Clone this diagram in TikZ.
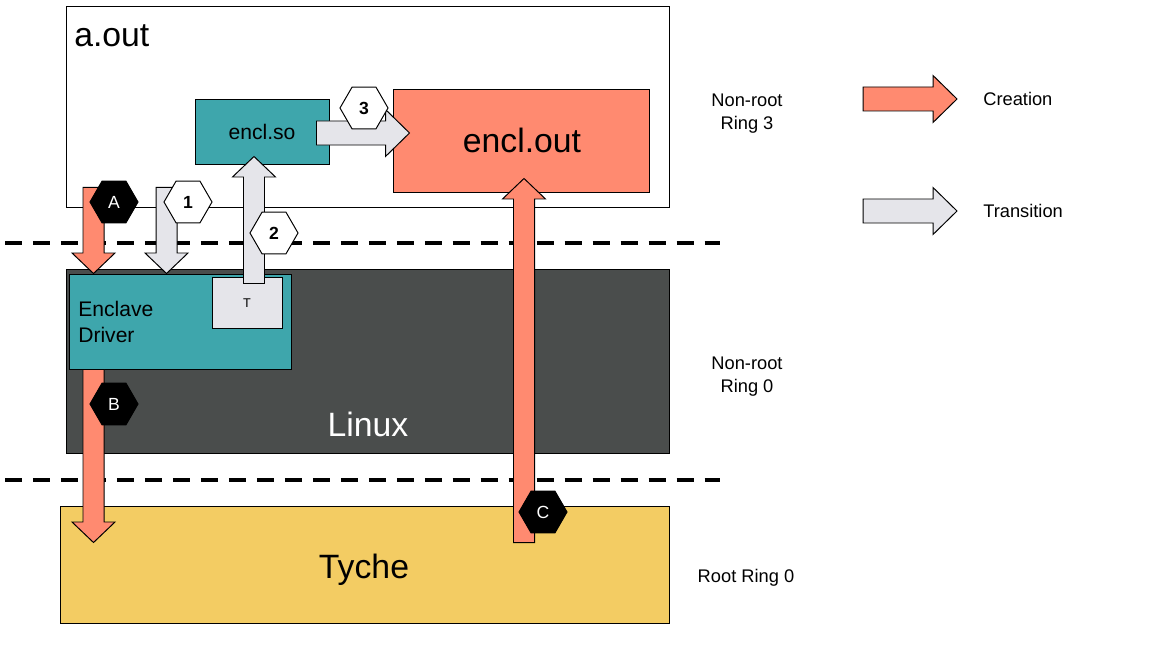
\documentclass[tikz,border=0pt]{standalone}
\usepackage{fontspec}
\setmainfont{Liberation Sans}
\usetikzlibrary{calc, fit, positioning, shapes.geometric}
\definecolor{tealbox}{RGB}{62,166,172}
\definecolor{salmon}{RGB}{255,138,112}
\definecolor{linuxgray}{RGB}{74,77,76}
\definecolor{tycheyellow}{RGB}{243,204,99}
\definecolor{transgray}{RGB}{229,229,234}
\tikzstyle{box} = [rectangle, draw=black, line width=0.7pt, inner sep=0]
\tikzstyle{txt} = [inner sep=0]
\tikzstyle{bigtext} = [font=\fontsize{24}{29}\selectfont]
\tikzstyle{medtext} = [font=\fontsize{15}{18.5}\selectfont]
\tikzstyle{smalltext} = [font=\fontsize{13}{16.4}\selectfont]
\tikzstyle{hex} = [regular polygon, regular polygon sides=6, minimum size=1.2cm, inner sep=0, draw=black, line width=0.7pt, font=\fontsize{12.5}{15}\selectfont]
\tikzstyle{separator} = [line width=2.8pt, dash pattern=on 12.1pt off 7.8pt]
\tikzstyle{creation} = [draw=black, fill=salmon, line width=0.7pt, line join=miter]
\tikzstyle{transition} = [draw=black, fill=transgray, line width=0.7pt, line join=miter]
\newcommand{\blockarrow}[6]{%
  \path (#2) coordinate (ba_s) (#3) coordinate (ba_t);
  \path ($(ba_t)!#6!(ba_s)$) coordinate (ba_b);
  \draw [#1] ($(ba_s)!#4!90:(ba_t)$) -- ($(ba_b)!#4!-90:(ba_s)$) -- ($(ba_b)!#5!-90:(ba_s)$) -- (ba_t) -- ($(ba_b)!#5!90:(ba_s)$) -- ($(ba_b)!#4!90:(ba_s)$) -- ($(ba_s)!#4!-90:(ba_t)$) -- cycle;
}
\newcommand{\smallarrow}[3]{\blockarrow{#1}{#2}{#3}{0.2625cm}{0.5375cm}{0.5125cm}}
\newcommand{\bigarrow}[3]{\blockarrow{#1}{#2}{#3}{0.3cm}{0.5875cm}{0.6cm}}
\begin{document}
\begin{tikzpicture}[x=0.025cm, y=-0.025cm, node distance=0.65cm]
\useasboundingbox (0,0) rectangle (1161,668);
\node (aout) [box, fill=white, fit={(66,6) (669,207)}] {};
\node (aout_text) [txt, bigtext, anchor=base west] at (74,47) {a.out};
\node (encl_so) [box, fill=tealbox, fit={(195,99) (329,164)}] {};
\node (encl_so_text) [txt, medtext, anchor=base] at (262,140) {encl.so};
\node (encl_out) [box, fill=salmon, fit={(393,89) (649,192)}] {};
\node (encl_out_text) [txt, bigtext, anchor=base] at (522,153) {encl.out};
\draw [separator] (5,243) -- (720,243);
\draw [separator] (5,480) -- (720,480);
\node (linux) [box, fill=linuxgray, fit={(66,269) (669,453)}] {};
\node (linux_text) [txt, bigtext, text=white, anchor=base] at (368,436) {Linux};
\node (driver) [box, fill=tealbox, fit={(69,274) (291,369)}] {};
\node (driver_text) [txt, medtext, align=left, anchor=west] at (78,321.5) {Enclave\\Driver};
\node (trampoline) [box, fill=transgray, fit={(212,277) (282,328)}] {};
\node (trampoline_text) [txt, font=\fontsize{9}{11}\selectfont, anchor=base] at (247,308) {T};
\node (tyche) [box, fill=tycheyellow, fit={(60,506) (669,623)}] {};
\node (tyche_text) [txt, bigtext, anchor=base] at (364,578) {Tyche};
\smallarrow{creation}{$(aout.south west)+(28,-20)$}{$(driver.north west)+(25,0)$}
\smallarrow{transition}{$(aout.south west)+(101,-20)$}{$(driver.north west)+(98,0)$}
\smallarrow{transition}{$(trampoline.north)+(7,7)$}{$(encl_so.south)+(-8,-8)$}
\bigarrow{transition}{$(encl_so.east)+(-13,1.5)$}{$(encl_out.west)+(17,-7.5)$}
\smallarrow{creation}{$(driver.south west)+(25,0)$}{$(tyche.north west)+(34,37)$}
\smallarrow{creation}{$(tyche.north)+(159.5,37)$}{$(encl_out.south)+(3,-14)$}
\node (hex_a) [hex, fill=black, text=white] at (114,202) {A};
\node (hex_1) [hex, fill=white] at (188,202) {\textbf{1}};
\node (hex_2) [hex, fill=white] at (274,233) {\textbf{2}};
\node (hex_3) [hex, fill=white] at (364,108) {\textbf{3}};
\node (hex_b) [hex, fill=black, text=white] at (114,404) {B};
\node (hex_c) [hex, fill=black, text=white] at (543,512) {C};
\node (ring3_label) [txt, smalltext, align=center] at (747,113.5) {Non-root\\Ring 3};
\node (ring0_label) [txt, smalltext, align=center] at (747,377) {Non-root\\Ring 0};
\node (root_label) [txt, smalltext, anchor=base] at (746,582) {Root Ring 0};
\coordinate (creation_start) at (863,99);
\coordinate (creation_end) at (957,99);
\coordinate (transition_start) at (863,211);
\coordinate (transition_end) at (957,211);
\bigarrow{creation}{creation_start}{creation_end}
\bigarrow{transition}{transition_start}{transition_end}
\node (creation_text) [txt, smalltext, right=of creation_end] {Creation};
\node (transition_text) [txt, smalltext, right=of transition_end] {Transition};
\end{tikzpicture}
\end{document}
